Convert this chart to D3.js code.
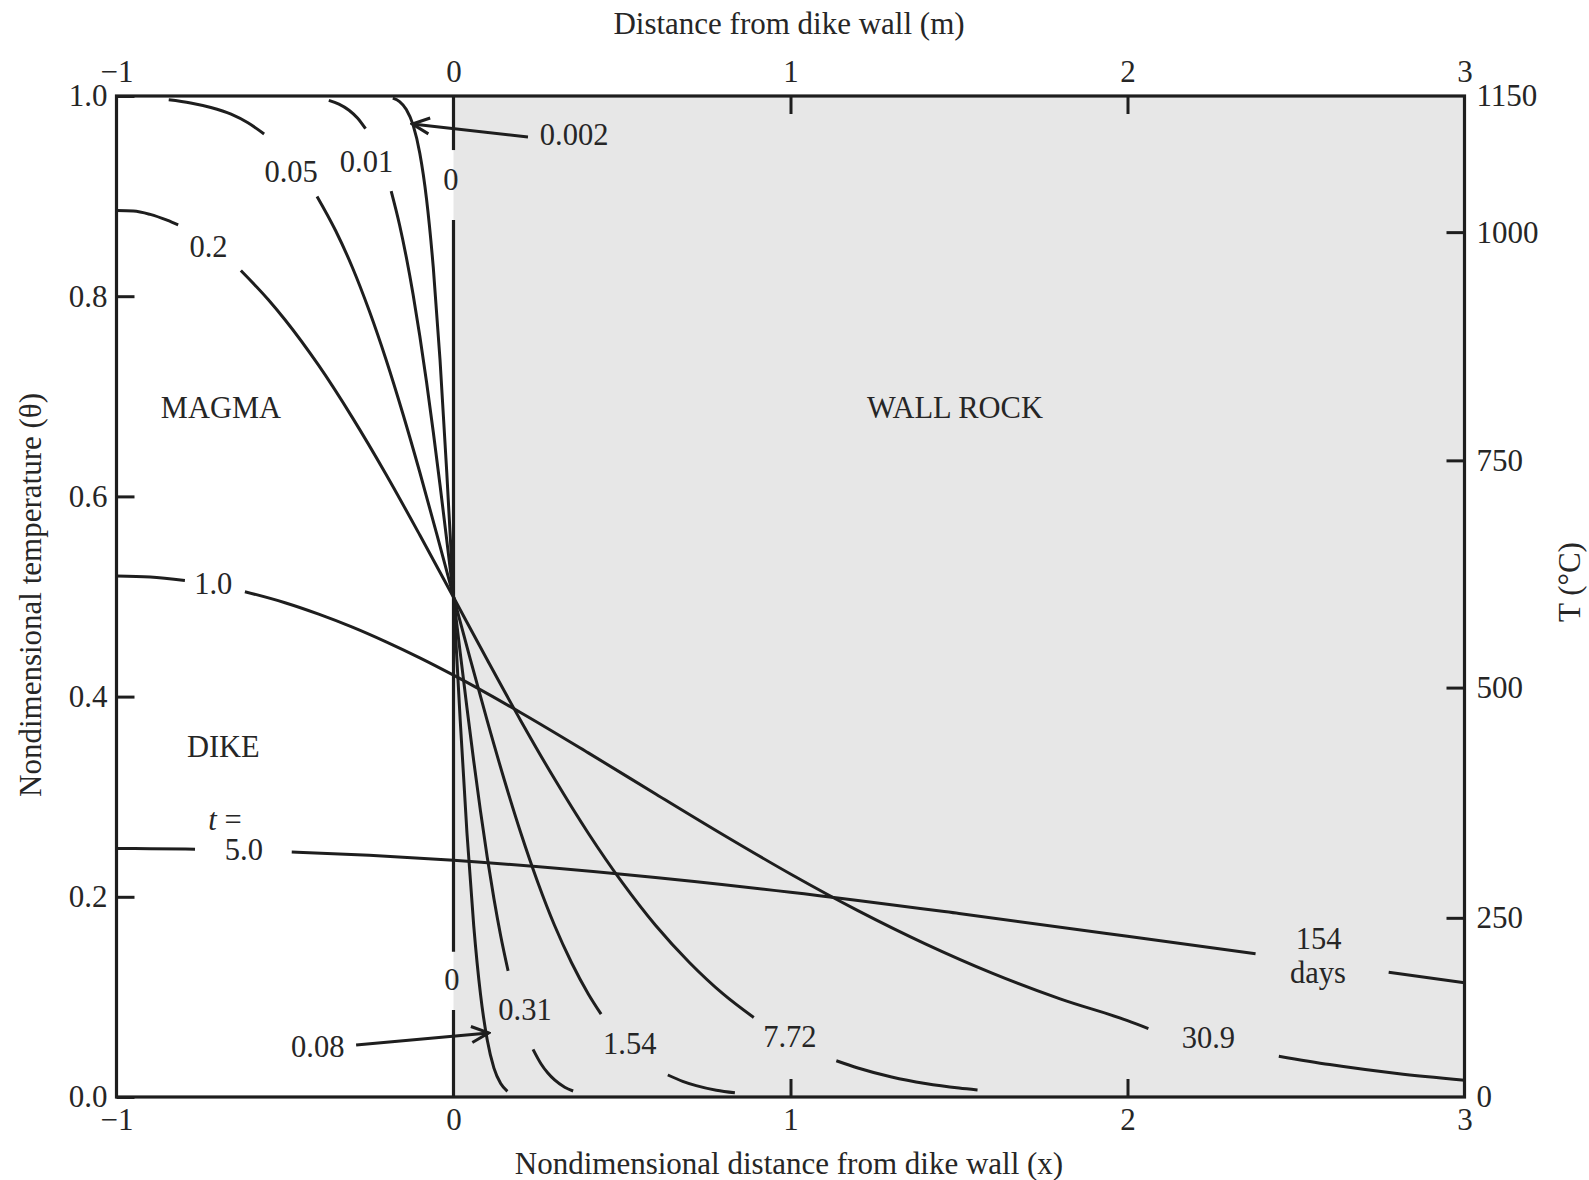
<!DOCTYPE html>
<html>
<head>
<meta charset="utf-8">
<script src="https://cdn.jsdelivr.net/npm/d3@7/dist/d3.min.js"></script>
<style>
  html, body { margin: 0; padding: 0; background: #ffffff; }
  svg { display: block; }
</style>
</head>
<body>
<svg id="chart" width="1589" height="1180"></svg>
<script>
// ---------------- DATA ----------------
// Nondimensional times (left labels) and the same curves in days (right labels)
const tauLabels  = ["0.002", "0.01", "0.05", "0.2", "1.0", "5.0"];
const daysLabels = ["0.08", "0.31", "1.54", "7.72", "30.9", "154"];

// Each curve: list of visible pieces, each piece a list of [x, theta]
const curveT0002 = [
  [[-0.18,0.9978],[-0.16,0.9943],[-0.14,0.9865],[-0.12,0.9711],[-0.10,0.9428],[-0.08,0.8970],
   [-0.06,0.8287],[-0.04,0.7365],[-0.02,0.6241],[0,0.5],[0.02,0.3759],[0.04,0.2635],[0.06,0.1713],
   [0.08,0.1030],[0.10,0.0572],[0.12,0.0289],[0.14,0.0135],[0.16,0.0057]]
];
const curveT001 = [
  [[-0.37,0.9956],[-0.34,0.9919],[-0.31,0.9858],[-0.285,0.978],[-0.261,0.9673]],
  [[-0.185,0.905],[-0.16,0.8711],[-0.14,0.8389],[-0.12,0.8020],[-0.10,0.7603],[-0.08,0.7142],
   [-0.06,0.6643],[-0.04,0.6114],[-0.02,0.5563],[0,0.5],[0.02,0.4437],[0.04,0.3886],[0.06,0.3357],
   [0.08,0.2858],[0.10,0.2397],[0.12,0.1980],[0.14,0.1611],[0.162,0.126]],
  [[0.236,0.0476],[0.26,0.0330],[0.28,0.0239],[0.30,0.0170],[0.33,0.0098],[0.355,0.0060]]
];
const curveT005 = [
  [[-0.845,0.9962],[-0.78,0.9931],[-0.72,0.9885],[-0.66,0.9818],[-0.61,0.9732],[-0.562,0.962]],
  [[-0.405,0.8997],[-0.35,0.8656],[-0.30,0.8287],[-0.25,0.7854],[-0.20,0.7365],[-0.15,0.6823],
   [-0.10,0.6241],[-0.05,0.5628],[0,0.5],[0.05,0.4372],[0.10,0.3759],[0.15,0.3177],[0.20,0.2635],
   [0.25,0.2146],[0.30,0.1713],[0.35,0.1344],[0.40,0.1030],[0.438,0.0828]],
  [[0.636,0.022],[0.68,0.0157],[0.72,0.0114],[0.78,0.0068],[0.835,0.0042]]
];
const curveT02 = [
  [[-1,0.8855],[-0.95,0.8851],[-0.9,0.8817],[-0.85,0.8759],[-0.817,0.8712]],
  [[-0.631,0.8257],[-0.55,0.7967],[-0.5,0.7765],[-0.4,0.7308],[-0.3,0.6787],[-0.2,0.6219],
   [-0.1,0.5614],[0,0.4992],[0.1,0.4368],[0.2,0.3757],[0.3,0.3176],[0.4,0.2635],[0.5,0.2146],
   [0.6,0.1713],[0.7,0.1344],[0.8,0.1030],[0.891,0.0794]],
  [[1.136,0.0362],[1.2,0.029],[1.3,0.0200],[1.4,0.0135],[1.5,0.0089],[1.555,0.0070]]
];
const curveT1 = [
  [[-1,0.5205],[-0.9,0.5194],[-0.797,0.5160]],
  [[-0.619,0.5048],[-0.5,0.4938],[-0.4,0.4824],[-0.3,0.4694],[-0.2,0.4547],[-0.1,0.4387],
   [0,0.4214],[0.2,0.3839],[0.4,0.3438],[0.6,0.3027],[0.8,0.2620],[1.0,0.2228],[1.2,0.1862],
   [1.4,0.1530],[1.6,0.1235],[1.8,0.0980],[2.0,0.0763],[2.062,0.0684]],
  [[2.449,0.0408],[2.6,0.0324],[2.8,0.0235],[3.0,0.0168]]
];
const curveT5 = [
  [[-1,0.2482],[-0.9,0.2481],[-0.767,0.2475]],
  [[-0.48,0.2448],[-0.25,0.2415],[0,0.2365],[0.5,0.2226],[1.0,0.2046],[1.5,0.1833],
   [2.0,0.1606],[2.38,0.143]],
  [[2.775,0.1247],[3.0,0.1141]]
];
const curves = [curveT0002, curveT001, curveT005, curveT02, curveT1, curveT5];

// Axis ticks
const xTicks = [-1, 0, 1, 2, 3];
const thetaTicks = [0, 0.2, 0.4, 0.6, 0.8, 1.0];
const tempTicks = [0, 250, 500, 750, 1000, 1150];          // T (°C) labels
const tempTickTheta = [0, 0.179, 0.409, 0.636, 0.864, 1.0]; // where they sit on the theta axis

// ---------------- LAYOUT ----------------
const FONT = '"Liberation Serif", "Times New Roman", Times, serif';
const INK = "#1e1e1e";
const TEXT = "#262626";
const svg = d3.select("#chart");

const x = d3.scaleLinear().domain([-1, 3]).range([116.5, 1464.5]);
const y = d3.scaleLinear().domain([0, 1]).range([1097, 96]);
const tY = d3.scaleLinear().domain(tempTicks).range(tempTickTheta.map(v => y(v)));

// wall-rock shading
svg.append("rect")
  .attr("x", x(0)).attr("y", y(1))
  .attr("width", x(3) - x(0)).attr("height", y(0) - y(1))
  .attr("fill", "#e7e7e7");

// axes
function styleAxis(g) {
  g.select(".domain").remove();
  g.selectAll(".tick line").attr("stroke", INK).attr("stroke-width", 3);
  g.selectAll(".tick text").attr("fill", TEXT).style("font-family", FONT).style("font-size", "31px");
}
const innerTicksX = [1, 2];
svg.append("g").attr("transform", `translate(0,${y(0)})`)
  .call(d3.axisBottom(x).tickValues(xTicks).tickSizeInner(0).tickSizeOuter(0).tickPadding(11).tickFormat(d3.format("d")))
  .call(styleAxis);
svg.append("g").attr("transform", `translate(0,${y(0)})`)
  .call(d3.axisBottom(x).tickValues(innerTicksX).tickSizeInner(-18).tickSizeOuter(0).tickFormat(""))
  .call(styleAxis);
svg.append("g").attr("transform", `translate(0,${y(1)})`)
  .call(d3.axisTop(x).tickValues(xTicks).tickSizeInner(0).tickSizeOuter(0).tickPadding(14).tickFormat(d3.format("d")))
  .call(styleAxis);
svg.append("g").attr("transform", `translate(0,${y(1)})`)
  .call(d3.axisTop(x).tickValues(innerTicksX).tickSizeInner(-18).tickSizeOuter(0).tickFormat(""))
  .call(styleAxis);
svg.append("g").attr("transform", `translate(${x(-1)},0)`)
  .call(d3.axisLeft(y).tickValues(thetaTicks).tickSizeInner(-18).tickSizeOuter(0).tickPadding(9).tickFormat(d3.format(".1f")))
  .call(styleAxis);
svg.append("g").attr("transform", `translate(${x(3)},0)`)
  .call(d3.axisRight(tY).tickValues(tempTicks).tickSizeInner(-18).tickSizeOuter(0).tickPadding(12).tickFormat(d3.format("d")))
  .call(styleAxis)
  .call(g => g.selectAll(".tick").filter(d => d === 0 || d === 1150).select("line").remove());

// dike wall line (x = 0) with gaps around the "0" marks
const wallPieces = [[1, 0.946], [0.876, 0.1452], [0.0869, 0]];
svg.append("g").selectAll("line").data(wallPieces).join("line")
  .attr("x1", x(0)).attr("x2", x(0))
  .attr("y1", d => y(d[0])).attr("y2", d => y(d[1]))
  .attr("stroke", INK).attr("stroke-width", 3.2);

// curves
const line = d3.line().x(d => x(d[0])).y(d => y(d[1])).curve(d3.curveMonotoneX);
const cg = svg.append("g");
curves.forEach(c => {
  c.forEach(piece => {
    cg.append("path").attr("d", line(piece))
      .attr("fill", "none").attr("stroke", INK).attr("stroke-width", 3)
      .attr("stroke-linecap", "butt");
  });
});

// frame
svg.append("rect")
  .attr("x", x(-1)).attr("y", y(1))
  .attr("width", x(3) - x(-1)).attr("height", y(0) - y(1))
  .attr("fill", "none").attr("stroke", INK).attr("stroke-width", 3.2);

// arrows
const defs = svg.append("defs");
defs.append("marker").attr("id", "arr")
  .attr("viewBox", "0 0 22 22").attr("refX", 20).attr("refY", 11)
  .attr("markerWidth", 22).attr("markerHeight", 22)
  .attr("markerUnits", "userSpaceOnUse").attr("orient", "auto")
  .append("path").attr("d", "M3,3 L20,11 L3,19")
  .attr("fill", "none").attr("stroke", INK).attr("stroke-width", 3);
const arrows = [
  { from: [0.221, 0.959], to: [-0.122, 0.972] },
  { from: [-0.289, 0.052], to: [0.104, 0.064] }
];
svg.append("g").selectAll("line").data(arrows).join("line")
  .attr("x1", d => x(d.from[0])).attr("y1", d => y(d.from[1]))
  .attr("x2", d => x(d.to[0])).attr("y2", d => y(d.to[1]))
  .attr("stroke", INK).attr("stroke-width", 3).attr("marker-end", "url(#arr)");

// text labels (anchored in data coordinates)
const labels = [
  { t: tauLabels[0], x: 0.358, y: 0.961 },
  { t: tauLabels[1], x: -0.258, y: 0.934 },
  { t: tauLabels[2], x: -0.482, y: 0.924 },
  { t: tauLabels[3], x: -0.727, y: 0.850 },
  { t: tauLabels[4], x: -0.713, y: 0.513 },
  { t: tauLabels[5], x: -0.622, y: 0.247 },
  { t: daysLabels[0], x: -0.403, y: 0.050 },
  { t: daysLabels[1], x: 0.212, y: 0.087 },
  { t: daysLabels[2], x: 0.523, y: 0.053 },
  { t: daysLabels[3], x: 0.998, y: 0.060 },
  { t: daysLabels[4], x: 2.240, y: 0.059 },
  { t: daysLabels[5], x: 2.567, y: 0.158 },
  { t: "days", x: 2.565, y: 0.124 },
  { t: "0", x: -0.008, y: 0.916 },
  { t: "0", x: -0.005, y: 0.117 },
  { t: "MAGMA", x: -0.69, y: 0.689 },
  { t: "WALL ROCK", x: 1.488, y: 0.689 },
  { t: "DIKE", x: -0.683, y: 0.350 }
];
svg.append("g").selectAll("text").data(labels).join("text")
  .attr("x", d => x(d.x)).attr("y", d => y(d.y)).attr("dy", "0.34em")
  .attr("text-anchor", "middle")
  .style("font-family", FONT).style("font-size", "30.5px").attr("fill", TEXT)
  .text(d => d.t);

const teq = svg.append("text")
  .attr("x", x(-0.678)).attr("y", y(0.277)).attr("dy", "0.34em")
  .attr("text-anchor", "middle")
  .style("font-family", FONT).style("font-size", "30.5px").attr("fill", TEXT);
teq.append("tspan").style("font-style", "italic").text("t");
teq.append("tspan").text(" =");

// axis titles
svg.append("text").attr("x", 789).attr("y", 23).attr("dy", "0.34em")
  .attr("text-anchor", "middle").style("font-family", FONT).style("font-size", "31px").attr("fill", TEXT)
  .text("Distance from dike wall (m)");
svg.append("text").attr("x", 789).attr("y", 1163).attr("dy", "0.34em")
  .attr("text-anchor", "middle").style("font-family", FONT).style("font-size", "31px").attr("fill", TEXT)
  .text("Nondimensional distance from dike wall (x)");
svg.append("text").attr("transform", "translate(30,595) rotate(-90)").attr("dy", "0.34em")
  .attr("text-anchor", "middle").style("font-family", FONT).style("font-size", "31px").attr("fill", TEXT)
  .text("Nondimensional temperature (θ)");
svg.append("text").attr("transform", "translate(1569,582) rotate(-90)").attr("dy", "0.34em")
  .attr("text-anchor", "middle").style("font-family", FONT).style("font-size", "31px").attr("fill", TEXT)
  .text("T (°C)");
</script>
</body>
</html>
